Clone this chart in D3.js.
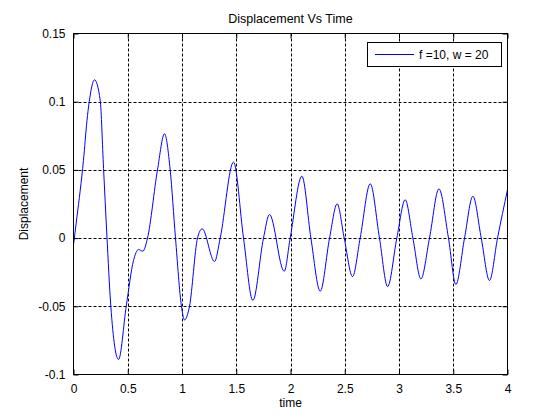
<!DOCTYPE html>
<html>
<head>
<meta charset="utf-8">
<script src="https://cdn.jsdelivr.net/npm/d3@7"></script>
<style>
  body { margin: 0; background: #fff; }
  text { font-family: "Liberation Sans", Arial, sans-serif; font-size: 12px; fill: #000; }
</style>
</head>
<body>
<script>
// values (peaks, troughs, zero crossings)
var time = [0, 0.031, 0.062, 0.092, 0.124, 0.145, 0.194, 0.246, 0.277, 0.307, 0.344, 0.415, 0.486,
    0.553, 0.599, 0.639, 0.682, 0.774, 0.839, 0.891, 0.94, 0.995, 1.023, 1.069, 1.143, 1.186, 1.3,
    1.352, 1.475, 1.567, 1.653, 1.751, 1.806, 1.942, 1.997, 2.105, 2.188, 2.274, 2.36, 2.43, 2.495,
    2.572, 2.642, 2.735, 2.82, 2.895, 2.98, 3.057, 3.128, 3.202, 3.281, 3.368, 3.456, 3.524, 3.604,
    3.681, 3.758, 3.834, 3.908, 4.0];
var displacement = [-0.005, 0.015, 0.035, 0.057, 0.086, 0.1, 0.116, 0.101, 0.051, 0.003, -0.05, -0.089, -0.05,
    -0.0165, -0.0084, -0.0096, 0, 0.05, 0.0765, 0.05, 0, -0.05, -0.06, -0.05, 0, 0.0068, -0.0172,
    0, 0.0557, 0, -0.0457, 0, 0.0173, -0.0243, 0, 0.0454, 0, -0.0389, 0, 0.0251, 0,
    -0.0282, 0, 0.0398, 0, -0.0355, 0, 0.0281, 0, -0.0299, 0, 0.0361, 0, -0.034, 0,
    0.0307, 0, -0.0311, 0, 0.0355];
var xTicks = [0, 0.5, 1, 1.5, 2, 2.5, 3, 3.5, 4];
var yTicks = [-0.1, -0.05, 0, 0.05, 0.1, 0.15];
var seriesName = 'f =10, w = 20';

var W = 560, H = 420;
var L = 73.5, R = 507.5, T = 33.5, B = 374.5;

var x = d3.scaleLinear().domain([0, 4]).range([L, R]);
var y = d3.scaleLinear().domain([-0.1, 0.15]).range([B, T]);

var svg = d3.select('body').append('svg').attr('width', W).attr('height', H);

// grid
svg.append('g').selectAll('line').data(xTicks.slice(1, -1)).enter().append('line')
    .attr('x1', function(d) { return Math.round(x(d)) + 0.5; })
    .attr('x2', function(d) { return Math.round(x(d)) + 0.5; })
    .attr('y1', T).attr('y2', B)
    .attr('stroke', '#000').attr('stroke-dasharray', '3,2');
svg.append('g').selectAll('line').data(yTicks.slice(1, -1)).enter().append('line')
    .attr('y1', function(d) { return Math.round(y(d)) + 0.5; })
    .attr('y2', function(d) { return Math.round(y(d)) + 0.5; })
    .attr('x1', L).attr('x2', R)
    .attr('stroke', '#000').attr('stroke-dasharray', '3,2');

// curve
var pts = time.map(function(t, i) { return [t, displacement[i]]; });
var line = d3.line()
    .x(function(d) { return x(d[0]); })
    .y(function(d) { return y(d[1]); })
    .curve(d3.curveMonotoneX);
svg.append('path').datum(pts)
    .attr('d', line)
    .attr('fill', 'none').attr('stroke', '#0000ff').attr('stroke-width', 1);

// box
svg.append('rect').attr('x', L).attr('y', T).attr('width', R - L).attr('height', B - T)
    .attr('fill', 'none').attr('stroke', '#000');

// axes with inward ticks, plain hyphen minus like the original
var fmt = function(d) { return String(d); };
var xAxis = d3.axisBottom(x).tickValues(xTicks).tickFormat(fmt).tickSizeInner(-5).tickSizeOuter(0).tickPadding(10);
var yAxis = d3.axisLeft(y).tickValues(yTicks).tickFormat(fmt).tickSizeInner(-5).tickSizeOuter(0).tickPadding(8);
svg.append('g').attr('transform', 'translate(0,' + B + ')').call(xAxis);
svg.append('g').attr('transform', 'translate(' + L + ',0)').call(yAxis);
svg.append('g').attr('transform', 'translate(0,' + T + ')')
    .call(d3.axisTop(x).tickValues(xTicks).tickFormat('').tickSizeInner(-5).tickSizeOuter(0));
svg.append('g').attr('transform', 'translate(' + R + ',0)')
    .call(d3.axisRight(y).tickValues(yTicks).tickFormat('').tickSizeInner(-5).tickSizeOuter(0));
svg.selectAll('.domain').remove();
svg.selectAll('.tick line').attr('stroke', '#000');
svg.selectAll('.tick text').attr('font-size', 12).attr('font-family', '"Liberation Sans", Arial, sans-serif').attr('fill', '#000');

// titles
svg.append('text').attr('x', (L + R) / 2).attr('y', 23).attr('text-anchor', 'middle')
    .style('font-size', '12.5px').text('Displacement Vs Time');
svg.append('text').attr('x', (L + R) / 2).attr('y', 407).attr('text-anchor', 'middle').text('time');
svg.append('text').attr('transform', 'translate(28,' + (T + B) / 2 + ') rotate(-90)')
    .attr('text-anchor', 'middle').text('Displacement');

// legend
var lg = svg.append('g');
lg.append('rect').attr('x', 367.5).attr('y', 42.5).attr('width', 134).attr('height', 24)
    .attr('fill', '#fff').attr('stroke', '#000');
lg.append('line').attr('x1', 375).attr('x2', 414).attr('y1', 54.5).attr('y2', 54.5)
    .attr('stroke', '#0000ff');
lg.append('text').attr('x', 419).attr('y', 59).text(seriesName);
</script>
</body>
</html>
